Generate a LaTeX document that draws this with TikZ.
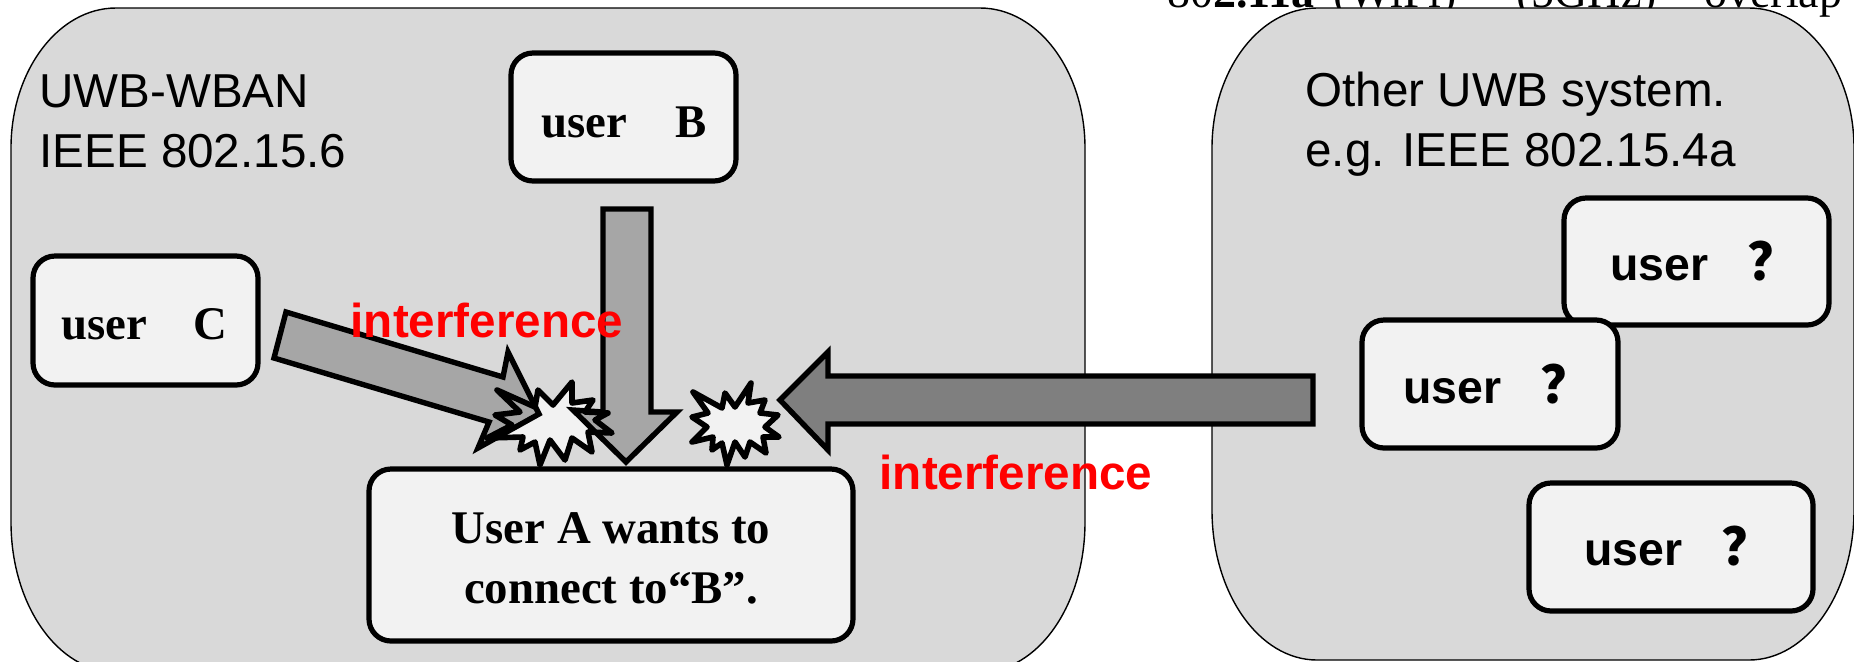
\documentclass[tikz,border=0pt]{standalone}
\usepackage{fontspec}
\setmainfont{Liberation Serif}
\setsansfont{Liberation Sans}
\newfontfamily\cjkq{Noto Sans CJK SC}
\definecolor{panelgray}{HTML}{D9D9D9}
\definecolor{boxgray}{HTML}{F2F2F2}
\definecolor{arrA}{HTML}{A6A6A6}
\definecolor{arrB}{HTML}{7F7F7F}
\tikzset{x=0.5pt,y=-0.5pt,
  panel/.style={fill=panelgray,draw=black,line width=0.7pt},
  userbox/.style={fill=boxgray,draw=black,line width=2.6pt,rounded corners=11pt},
  arrowshape/.style={draw=black,line width=2.7pt,miter limit=10},
  burstline/.style={draw=black,line width=2.8pt,line join=round},
  lab/.style={font=\sffamily\fontsize{23.8}{30}\selectfont,align=left,anchor=west,inner sep=0pt},
  ser/.style={font=\rmfamily\bfseries\fontsize{23.4}{30}\selectfont,align=center,inner sep=0pt},
  san/.style={font=\sffamily\bfseries\fontsize{23.2}{28}\selectfont,inner sep=0pt,anchor=base west},
  redlab/.style={font=\sffamily\bfseries\fontsize{23.8}{28}\selectfont,text=red,inner sep=0pt},
  toptext/.style={font=\rmfamily\fontsize{23}{26}\selectfont,anchor=base west,inner sep=0pt}}
\newcommand{\qmark}{{\cjkq\bfseries\fontsize{26}{26}\selectfont ？}}
\newcommand{\burstA}{(497,390) -- (535,407) -- (538,390) -- (553,405) -- (572,382) -- (572,403) -- (593,400) -- (585,412) -- (608,413) -- (595,420) -- (612,433) -- (588,432) -- (592,452) -- (572,438) -- (565,460) -- (550,440) -- (540,465) -- (535,442) -- (520,450) -- (523,437) -- (487,438) -- (512,425) -- (495,415) -- (520,412) -- cycle}
\begin{document}
\begin{tikzpicture}
\useasboundingbox (0,0) rectangle (1854,661);
\begin{scope}
\clip (0,0) rectangle (1854,661);
\node[toptext] (t802) at (1167,7) {80\textbf{2.11a}};
\node[toptext] (twifi) at (1333,7) {(WiFi)};
\node[toptext] (tghz) at (1516,7) {(5GHz)};
\node[toptext] (tover) at (1704,7) {overlap};
\path[panel] (116,8) -- (980,8) .. controls (1038,8) and (1085,71) .. (1085,148) -- (1085,522) .. controls (1085,605) and (1038,672) .. (980,672) -- (116,672) .. controls (58,672) and (11,605) .. (11,522) -- (11,148) .. controls (11,71) and (58,8) .. (116,8) -- cycle;
\path[panel] (1317,8) -- (1749,8) .. controls (1807,8) and (1854,71) .. (1854,148) -- (1854,510) .. controls (1854,593) and (1807,660) .. (1749,660) -- (1317,660) .. controls (1259,660) and (1212,593) .. (1212,510) -- (1212,148) .. controls (1212,71) and (1259,8) .. (1317,8) -- cycle;
\end{scope}
\node[lab] (t1) at (39,121) {UWB-WBAN\\IEEE 802.15.6};
\node[lab] (t2) at (1305,124) {Other UWB system.\\e.g. IEEE 802.15.4a};
% burst fills lie under the arrows, burst outlines above them
\fill[boxgray] \burstA;
\draw[arrowshape,fill=arrA] (603,209) -- (651,209) -- (651,412) -- (677,412) -- (626,462) -- (573,410) -- (603,412) -- cycle;
\draw[arrowshape,fill=arrA] (286,312) -- (274,358) -- (489,422) -- (478,448) -- (539,414) -- (508,352) -- (503,377) -- cycle;
\draw[arrowshape,fill=arrB] (1313,376) -- (828,376) -- (828,352) -- (780,400) -- (828,450) -- (828,424) -- (1313,424) -- cycle;
\path[burstline] \burstA;
\path[burstline,fill=boxgray] (693,392) -- (722,408) -- (725,393) -- (735,407) -- (751,383) -- (748,403) -- (765,400) -- (760,413) -- (778,415) -- (765,427) -- (779,437) -- (763,437) -- (766,453) -- (750,442) -- (745,457) -- (735,442) -- (727,465) -- (722,443) -- (712,450) -- (713,437) -- (692,442) -- (707,427) -- (692,417) -- (708,413) -- cycle;
\draw[userbox] (511,53) rectangle (736,181);
\node[ser,anchor=west] (ub) at (541,122) {user\hspace{24pt}B};
\draw[userbox] (33,256) rectangle (258,385);
\node[ser,anchor=west] (uc) at (61,324) {user\hspace{23pt}C};
\draw[userbox] (369,469) rectangle (853,641);
\node[ser] (ua) at (611,558) {User A wants to\\connect to“B”.};
\draw[userbox] (1564,198) rectangle (1829,325);
\node[san] (q1) at (1610,280) {user\hspace{0.85em}\qmark};
\draw[userbox] (1362,320) rectangle (1618,448);
\node[san] (q2) at (1403,403) {user\hspace{0.85em}\qmark};
\draw[userbox] (1529,483) rectangle (1813,611);
\node[san] (q3) at (1584,565) {user\hspace{0.85em}\qmark};
\node[redlab] (i1) at (487,320) {interference};
\node[redlab] (i2) at (1016,472) {interference};
\end{tikzpicture}
\end{document}
